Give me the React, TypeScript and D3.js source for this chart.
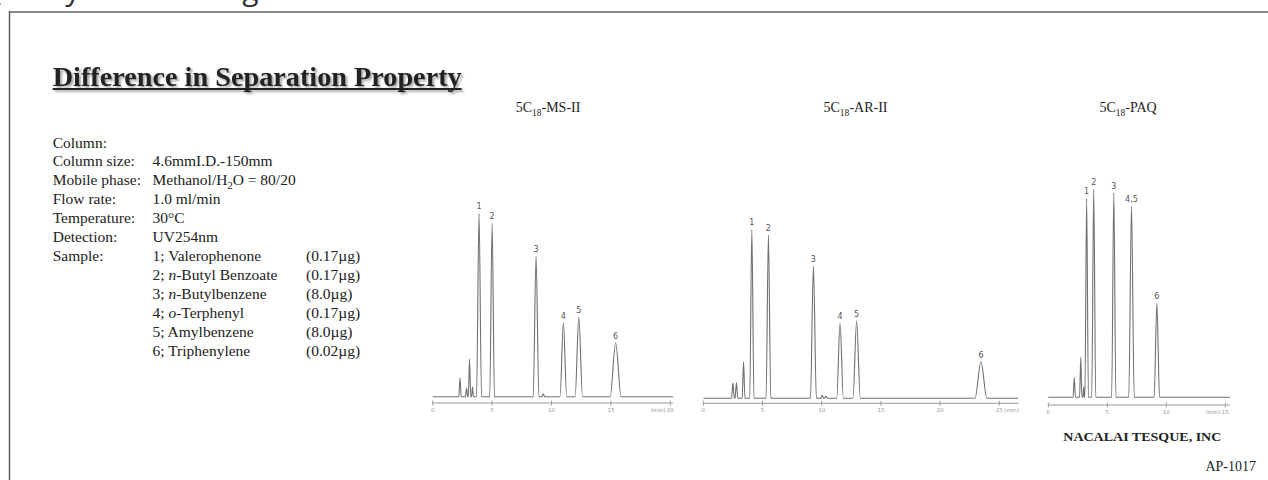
import React from 'react';
import * as d3 from 'd3';

// ---------- data ----------
const titleText = 'Difference in Separation Property';
const conditionLabels = ['Column:', 'Column size:', 'Mobile phase:', 'Flow rate:', 'Temperature:', 'Detection:', 'Sample:'];
const conditionValues = ['', '4.6mmI.D.-150mm', 'Methanol/H_{2}O = 80/20', '1.0 ml/min', '30°C', 'UV254nm', ''];
const sampleNames = ['1; Valerophenone', '2; *n*-Butyl Benzoate', '3; *n*-Butylbenzene', '4; *o*-Terphenyl', '5; Amylbenzene', '6; Triphenylene'];
const sampleAmounts = ['(0.17µg)', '(0.17µg)', '(8.0µg)', '(0.17µg)', '(8.0µg)', '(0.02µg)'];
const columnNames = ['5C_{18}-MS-II', '5C_{18}-AR-II', '5C_{18}-PAQ'];

// MS-II peaks: retention time (min), height, half base width (min), label
const msTimes = [2.3, 2.85, 3.1, 3.35, 3.9, 5.0, 8.7, 9.3, 11.0, 12.3, 15.4];
const msHeights = [18.7, 8.7, 37.7, 9.7, 183.4, 173.4, 140.7, 3, 74, 80, 54];
const msWidths = [0.1, 0.1, 0.1, 0.08, 0.21, 0.2, 0.24, 0.12, 0.28, 0.31, 0.46];
const msLabels = ['', '', '', '', '1', '2', '3', '', '4', '5', '6'];
const msTicks = [0, 5, 10, 15, 20];
const msEnd = 20.23;

// AR-II peaks
const arTimes = [2.5, 2.8, 3.4, 4.1, 5.5, 9.3, 10.05, 10.35, 11.55, 12.95, 23.45];
const arHeights = [15.6, 15.6, 36.6, 169, 163.3, 132.3, 3, 2, 75.6, 77.3, 36.6];
const arWidths = [0.12, 0.12, 0.12, 0.18, 0.2, 0.25, 0.12, 0.12, 0.28, 0.31, 0.5];
const arLabels = ['', '', '', '1', '2', '3', '', '', '4', '5', '6'];
const arTicks = [0, 5, 10, 15, 20, 25];
const arEnd = 26.6;

// PAQ peaks
const paqTimes = [2.2, 2.75, 3.0, 3.25, 3.85, 5.55, 7.05, 9.2];
const paqHeights = [20, 40, 10.6, 199, 208, 204.6, 191.3, 94.6];
const paqWidths = [0.1, 0.1, 0.06, 0.15, 0.17, 0.18, 0.23, 0.23];
const paqLabels = ['', '', '', '1', '2', '3', '4,5', '6'];
const paqTicks = [0, 5, 10, 15];
const paqEnd = 15.4;

const unitLabel = '(min)';
const croppedHeading = ['Quality', 'Testing'];

// ---------- layout ----------
const W = 1268;
const H = 480;
const SERIF = '"Liberation Serif", "Times New Roman", Times, serif';
const SANS = '"DejaVu Sans", Arial, sans-serif';

const panels = [
  { times: msTimes, heights: msHeights, widths: msWidths, labels: msLabels, ticks: msTicks, end: msEnd,
    x0: 432.7, ppm: 11.88, axisY: 403, baseY: 396.7, unitSide: 'left', nameX: 548 },
  { times: arTimes, heights: arHeights, widths: arWidths, labels: arLabels, ticks: arTicks, end: arEnd,
    x0: 703.3, ppm: 11.84, axisY: 403.3, baseY: 398.3, unitSide: 'right', nameX: 855.5 },
  { times: paqTimes, heights: paqHeights, widths: paqWidths, labels: paqLabels, ticks: paqTicks, end: paqEnd,
    x0: 1048.3, ppm: 11.8, axisY: 405, baseY: 397.3, unitSide: 'left', nameX: 1128 },
];

function renderRich(s: string, key: string, baseSize: number) {
  // supports _{sub} and *italic*
  const parts: React.ReactNode[] = [];
  const re = /(_\{[^}]*\}|\*[^*]*\*)/g;
  let last = 0;
  let m: RegExpExecArray | null;
  let i = 0;
  let subbed = false;
  while ((m = re.exec(s)) !== null) {
    if (m.index > last) {
      parts.push(<tspan key={key + i++} dy={subbed ? -baseSize * 0.25 : 0}>{s.slice(last, m.index)}</tspan>);
      subbed = false;
    }
    const tok = m[0];
    if (tok.startsWith('_')) {
      parts.push(<tspan key={key + i++} fontSize={baseSize * 0.68} dy={baseSize * 0.25}>{tok.slice(2, -1)}</tspan>);
      subbed = true;
    } else {
      parts.push(<tspan key={key + i++} fontStyle="italic">{tok.slice(1, -1)}</tspan>);
    }
    last = m.index + tok.length;
  }
  if (last < s.length) {
    parts.push(<tspan key={key + i++} dy={subbed ? -baseSize * 0.25 : 0}>{s.slice(last)}</tspan>);
  }
  return parts;
}

function Chromatogram({ p, idx }: { p: any; idx: number }) {
  const x = d3.scaleLinear().domain([0, p.end]).range([p.x0, p.x0 + p.end * p.ppm]);
  const y = d3.scaleLinear().domain([0, 220]).range([p.baseY, p.baseY - 220]);
  const pts: [number, number][] = [[0, 0]];
  p.times.forEach((t: number, i: number) => {
    pts.push([t - p.widths[i], 0]);
    pts.push([t, p.heights[i]]);
    pts.push([t + p.widths[i], 0]);
  });
  pts.push([p.end, 0]);
  const line = d3.line<[number, number]>()
    .x(d => x(d[0]))
    .y(d => y(d[1]))
    .curve(d3.curveMonotoneX);
  const lastTick = p.ticks[p.ticks.length - 1];
  return (
    <g>
      <text x={p.nameX} y={112} textAnchor="middle" fontFamily={SERIF} fontSize={14} fill="#222">
        {renderRich(columnNames[idx], 'cn' + idx, 14)}
      </text>
      <path d={line(pts) || ''} fill="none" stroke="#707070" strokeWidth={1.1} strokeLinejoin="round" />
      {p.times.map((t: number, i: number) =>
        p.labels[i] ? (
          <text key={'pl' + i} x={x(t)} y={y(p.heights[i]) - 4} textAnchor="middle"
            fontFamily={SANS} fontSize={8} fill="#555">{p.labels[i]}</text>
        ) : null
      )}
      <line x1={x(0)} x2={x(p.end)} y1={p.axisY} y2={p.axisY} stroke="#9a9a9a" strokeWidth={1} />
      {p.ticks.map((t: number) => (
        <g key={'t' + t}>
          <line x1={x(t)} x2={x(t)} y1={p.axisY - 2.5} y2={p.axisY + 2.5} stroke="#9a9a9a" strokeWidth={1} />
          <text x={x(t)} y={p.axisY + 9} textAnchor="middle" fontFamily={SANS} fontSize={5.5} fill="#999">{t}</text>
        </g>
      ))}
      <text x={p.unitSide === 'left' ? x(lastTick) - 5 : x(lastTick) + 5} y={p.axisY + 9}
        textAnchor={p.unitSide === 'left' ? 'end' : 'start'} fontFamily={SANS} fontSize={5.5} fill="#999">{unitLabel}</text>
    </g>
  );
}

export default function App() {
  const labelX = 52.7;
  const valueX = 152.5;
  const amountX = 306;
  const firstBase = 147.5;
  const lh = 18.95;
  return (
    <svg width={W} height={H} style={{ position: 'absolute', left: 0, top: 0, background: '#fff' }}>
      <defs>
        <filter id="tshadow" x="-5%" y="-30%" width="110%" height="160%">
          <feGaussianBlur in="SourceAlpha" stdDeviation="1.2" />
          <feOffset dx="1.5" dy="1.5" result="b" />
          <feComponentTransfer><feFuncA type="linear" slope="0.35" /></feComponentTransfer>
          <feMerge><feMergeNode /><feMergeNode in="SourceGraphic" /></feMerge>
        </filter>
      </defs>
      <rect x={0} y={0} width={W} height={H} fill="#fff" />
      {/* heading cropped off at the top edge: only descenders remain visible */}
      <text x={-19} y={-0.5} fontFamily='"Open Sans", sans-serif' fontSize={30} fill="#333">{croppedHeading[0]}</text>
      <text x={158} y={-0.5} fontFamily='"Open Sans", sans-serif' fontSize={30} fill="#333">{croppedHeading[1]}</text>
      {/* frame */}
      <line x1={9} y1={12} x2={W} y2={12} stroke="#8a8a8a" strokeWidth={2} />
      <line x1={9.5} y1={11} x2={9.5} y2={H} stroke="#555" strokeWidth={1.4} />

      {/* title */}
      <g filter="url(#tshadow)">
        <text x={labelX} y={86} fontFamily={SERIF} fontWeight="bold" fontSize={28} fill="#222"
          textLength={409} lengthAdjust="spacingAndGlyphs">{titleText}</text>
        <line x1={labelX} x2={labelX + 409} y1={89} y2={89} stroke="#222" strokeWidth={2} />
      </g>

      {/* conditions */}
      {conditionLabels.map((l, i) => (
        <g key={'c' + i}>
          <text x={labelX} y={firstBase + i * lh} fontFamily={SERIF} fontSize={15.5} fill="#222">{l}</text>
          {conditionValues[i] ? (
            <text x={valueX} y={firstBase + i * lh} fontFamily={SERIF} fontSize={15.5} fill="#222">
              {renderRich(conditionValues[i], 'cv' + i, 15.5)}
            </text>
          ) : null}
        </g>
      ))}
      {sampleNames.map((s, i) => (
        <g key={'s' + i}>
          <text x={valueX} y={firstBase + (6 + i) * lh} fontFamily={SERIF} fontSize={15.5} fill="#222">
            {renderRich(s, 'sn' + i, 15.5)}
          </text>
          <text x={amountX} y={firstBase + (6 + i) * lh} fontFamily={SERIF} fontSize={15.5} fill="#222">{sampleAmounts[i]}</text>
        </g>
      ))}

      {panels.map((p, i) => <Chromatogram key={i} p={p} idx={i} />)}

      <text x={1063.3} y={441} fontFamily={SERIF} fontWeight="bold" fontSize={13.5} fill="#222"
        textLength={158} lengthAdjust="spacingAndGlyphs">NACALAI TESQUE, INC</text>
      <text x={1256} y={471} textAnchor="end" fontFamily={SERIF} fontSize={14} fill="#222">AP-1017</text>
    </svg>
  );
}
